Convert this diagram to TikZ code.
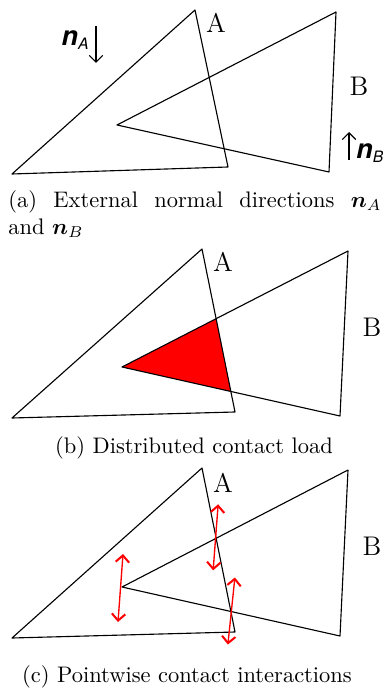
\documentclass[tikz,border=0pt]{standalone}
\usepackage{amsmath}
\usepackage{fontspec}
\newfontfamily\helv{TeX Gyre Heros}
\usetikzlibrary{calc,arrows.meta}

% normal vector label, bold sans like the drawing program
\newcommand{\nvec}[1]{{\helv\bfseries\itshape n}\raisebox{-0.4ex}{\helv\itshape\scriptsize #1}}

\begin{document}
\begin{tikzpicture}[x=0.445pt, y=-0.445pt, >={Straight Barb[length=3pt,width=6pt]}, line join=round,
    body/.style={draw, line width=0.5pt},
    pair/.style={{Straight Barb[length=3pt,width=6pt,line width=0.9pt]}-{Straight Barb[length=3pt,width=6pt,line width=0.9pt]}, red, line width=0.6pt},
    normal/.style={->, line width=0.5pt},
    lab/.style={inner sep=0pt, font=\large},
    caption/.style={inner sep=0pt, font=\normalsize}]
    \useasboundingbox (0,0) rectangle (382,689);

    % (a) external normals
    \coordinate (aA1) at (195,10);  \coordinate (aA2) at (12,174);  \coordinate (aA3) at (228,167);
    \coordinate (aB1) at (336,12);  \coordinate (aB2) at (117,125); \coordinate (aB3) at (329,172);
    \draw[body] (aA1) -- (aA2) -- (aA3) -- cycle;
    \draw[body] (aB1) -- (aB2) -- (aB3) -- cycle;
    \node[lab] (labaA) at (216,23) {A};
    \node[lab] (labaB) at (359,86) {B};
    \coordinate (nAs) at (96,26);  \coordinate (nAe) at (96,63);
    \coordinate (nBs) at (349,160); \coordinate (nBe) at (349,132);
    \draw[normal] (nAs) -- (nAe);
    \draw[normal] (nBs) -- (nBe);
    \node[inner sep=0pt, anchor=east] (nA) at (89,40) {\large\nvec{A}};
    \node[inner sep=0pt, anchor=west] (nB) at (356,153) {\large\nvec{B}};
    \node[caption, anchor=north west, text width=166pt, align=justify] (capa) at (8,190)
        {(a) External normal directions $\boldsymbol{n}_A$\linebreak and $\boldsymbol{n}_B$};

    % (b) distributed load
    \coordinate (bA1) at (202,249); \coordinate (bA2) at (12,418);  \coordinate (bA3) at (235,412);
    \coordinate (bB1) at (348,251); \coordinate (bB2) at (122,367); \coordinate (bB3) at (340,416);
    \coordinate (bX1) at (intersection of bA1--bA3 and bB1--bB2);
    \coordinate (bX2) at (intersection of bA1--bA3 and bB2--bB3);
    \fill[red] (bB2) -- (bX1) -- (bX2) -- cycle;
    \draw[body] (bA1) -- (bA2) -- (bA3) -- cycle;
    \draw[body] (bB1) -- (bB2) -- (bB3) -- cycle;
    \node[lab] (labbA) at (223,262) {A};
    \node[lab] (labbB) at (372,327) {B};
    \node[caption] (capb) at (194,448) {(b) Distributed contact load};

    % (c) pointwise interactions
    \coordinate (cA1) at (202,468); \coordinate (cA2) at (12,638);  \coordinate (cA3) at (235,632);
    \coordinate (cB1) at (348,470); \coordinate (cB2) at (122,587); \coordinate (cB3) at (340,636);
    \coordinate (cX1) at (intersection of cA1--cA3 and cB1--cB2);
    \coordinate (cX2) at (intersection of cA1--cA3 and cB2--cB3);
    \draw[body] (cA1) -- (cA2) -- (cA3) -- cycle;
    \draw[body] (cB1) -- (cB2) -- (cB3) -- cycle;
    \foreach \p/\ux/\uy/\dx/\dy in {cB2/1/-33/-4/35, cX1/2/-34/-3/32, cX2/4/-34/-3/33}
        \draw[pair] ($(\p)+(\ux,\uy)$) -- ($(\p)+(\dx,\dy)$);
    \node[lab] (labcA) at (223,483) {A};
    \node[lab] (labcB) at (372,546) {B};
    \node[caption] (capc) at (187,677) {(c) Pointwise contact interactions};
\end{tikzpicture}
\end{document}
